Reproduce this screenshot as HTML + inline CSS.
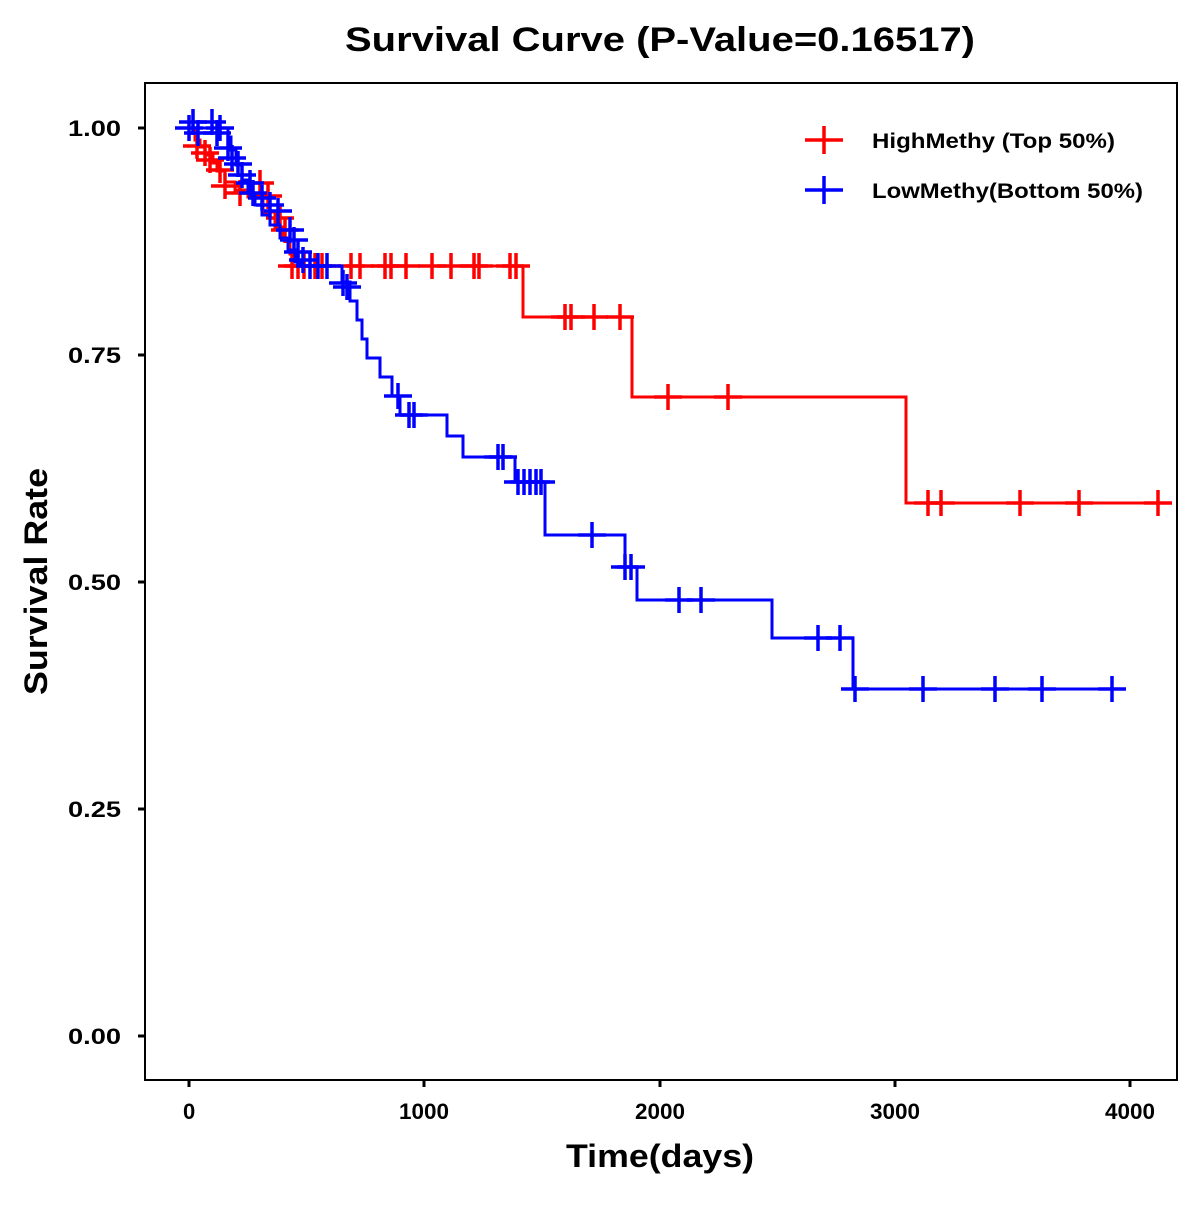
<!DOCTYPE html>
<html><head><meta charset="utf-8"><style>
html,body{margin:0;padding:0;background:#fff;}
text{font-family:"Liberation Sans",Arial,sans-serif;font-weight:bold;fill:#000;}
</style></head><body>
<svg width="1200" height="1200" viewBox="0 0 1200 1200" xmlns="http://www.w3.org/2000/svg">
<defs>
<g id="cr"><path d="M-14 0H14M0 -13V13" stroke-width="3.5"/></g>
</defs>
<text x="345" y="51" font-size="34" textLength="630" lengthAdjust="spacingAndGlyphs">Survival Curve (P-Value=0.16517)</text>
<rect x="145" y="83" width="1032" height="997" fill="none" stroke="#000" stroke-width="2"/>
<g stroke="#000" stroke-width="3">
<path d="M138 128H145M138 355H145M138 582H145M138 809H145M138 1036H145"/>
<path d="M189 1080V1087M424 1080V1087M660 1080V1087M895 1080V1087M1130 1080V1087"/>
</g>
<g font-size="22">
<text x="68" y="136" textLength="53" lengthAdjust="spacingAndGlyphs">1.00</text>
<text x="68" y="363" textLength="53" lengthAdjust="spacingAndGlyphs">0.75</text>
<text x="68" y="590" textLength="53" lengthAdjust="spacingAndGlyphs">0.50</text>
<text x="68" y="817" textLength="53" lengthAdjust="spacingAndGlyphs">0.25</text>
<text x="68" y="1044" textLength="53" lengthAdjust="spacingAndGlyphs">0.00</text>
</g>
<g font-size="22">
<text x="183" y="1119">0</text>
<text x="399" y="1119" textLength="50" lengthAdjust="spacingAndGlyphs">1000</text>
<text x="635" y="1119" textLength="50" lengthAdjust="spacingAndGlyphs">2000</text>
<text x="870" y="1119" textLength="50" lengthAdjust="spacingAndGlyphs">3000</text>
<text x="1105" y="1119" textLength="50" lengthAdjust="spacingAndGlyphs">4000</text>
</g>
<text x="566" y="1167" font-size="32" textLength="188" lengthAdjust="spacingAndGlyphs">Time(days)</text>
<text transform="translate(47,695) rotate(-90)" font-size="32" textLength="227" lengthAdjust="spacingAndGlyphs">Survival Rate</text>

<g stroke="#ff0000" fill="none">
<path stroke-width="3" d="M180 128H195V140H200V147H205V155H213V163H217V171H225V182H235V190H248V197H263V212H275V227H283V240H290V254H292V266H523V317H632V397H906V503H1170"/>
<g>
<use href="#cr" x="197" y="146"/><use href="#cr" x="205" y="153"/><use href="#cr" x="210" y="160"/><use href="#cr" x="220" y="170"/><use href="#cr" x="225" y="186"/><use href="#cr" x="240" y="193"/><use href="#cr" x="260" y="183"/><use href="#cr" x="268" y="196"/><use href="#cr" x="280" y="218"/><use href="#cr" x="285" y="230"/>
<use href="#cr" x="292" y="266"/><use href="#cr" x="298" y="266"/><use href="#cr" x="304" y="266"/><use href="#cr" x="315" y="266"/><use href="#cr" x="322" y="266"/>
<use href="#cr" x="351" y="266"/><use href="#cr" x="360" y="266"/><use href="#cr" x="385" y="266"/><use href="#cr" x="391" y="266"/><use href="#cr" x="406" y="266"/><use href="#cr" x="432" y="266"/><use href="#cr" x="451" y="266"/><use href="#cr" x="474" y="266"/><use href="#cr" x="479" y="266"/><use href="#cr" x="510" y="266"/><use href="#cr" x="516" y="266"/>
<use href="#cr" x="565" y="317"/><use href="#cr" x="571" y="317"/><use href="#cr" x="594" y="317"/><use href="#cr" x="620" y="317"/>
<use href="#cr" x="668" y="397"/><use href="#cr" x="728" y="397"/>
<use href="#cr" x="928" y="503"/><use href="#cr" x="941" y="503"/><use href="#cr" x="1020" y="503"/><use href="#cr" x="1079" y="503"/><use href="#cr" x="1158" y="503"/>
</g>
</g>
<g stroke="#0000ff" fill="none">
<path stroke-width="3" d="M176 128H228V137H231V150H236V165H242V180H248V193H255V205H262V215H270V225H280V238H288V250H295V262H300V266H342V282H350V301H357V320H362V339H367V358H380V377H392V396H400V415H447V436H463V457H515V482H545V535H625V567H637V600H772V638H853V689H1125"/>
<g>
<use href="#cr" x="189" y="128"/><use href="#cr" x="193" y="122"/><use href="#cr" x="198" y="133"/><use href="#cr" x="212" y="122"/><use href="#cr" x="217" y="133"/><use href="#cr" x="220" y="128"/>
<use href="#cr" x="228" y="148"/><use href="#cr" x="232" y="158"/><use href="#cr" x="238" y="164"/><use href="#cr" x="242" y="175"/><use href="#cr" x="250" y="183"/><use href="#cr" x="253" y="193"/><use href="#cr" x="262" y="198"/><use href="#cr" x="270" y="205"/><use href="#cr" x="278" y="211"/>
<use href="#cr" x="290" y="230"/><use href="#cr" x="294" y="240"/><use href="#cr" x="298" y="252"/><use href="#cr" x="303" y="260"/><use href="#cr" x="310" y="266"/><use href="#cr" x="318" y="266"/><use href="#cr" x="327" y="266"/>
<use href="#cr" x="343" y="283"/><use href="#cr" x="347" y="287"/>
<use href="#cr" x="398" y="396"/><use href="#cr" x="409" y="415"/><use href="#cr" x="414" y="415"/>
<use href="#cr" x="498" y="457"/><use href="#cr" x="503" y="457"/>
<use href="#cr" x="518" y="482"/><use href="#cr" x="524" y="482"/><use href="#cr" x="530" y="482"/><use href="#cr" x="536" y="482"/><use href="#cr" x="541" y="482"/>
<use href="#cr" x="592" y="535"/><use href="#cr" x="625" y="567"/><use href="#cr" x="631" y="567"/>
<use href="#cr" x="679" y="600"/><use href="#cr" x="701" y="600"/>
<use href="#cr" x="818" y="638"/><use href="#cr" x="840" y="638"/>
<use href="#cr" x="855" y="689"/><use href="#cr" x="923" y="689"/><use href="#cr" x="995" y="689"/><use href="#cr" x="1042" y="689"/><use href="#cr" x="1112" y="689"/>
</g>
</g>
<g stroke="#ff0000"><path d="M805 140H843M824 126V154" stroke-width="3.5"/></g>
<g stroke="#0000ff"><path d="M805 190H843M824 176V204" stroke-width="3.5"/></g>
<text x="872" y="148" font-size="21" textLength="243" lengthAdjust="spacingAndGlyphs">HighMethy (Top 50%)</text>
<text x="872" y="198" font-size="21" textLength="271" lengthAdjust="spacingAndGlyphs">LowMethy(Bottom 50%)</text>
</svg>
</body></html>
